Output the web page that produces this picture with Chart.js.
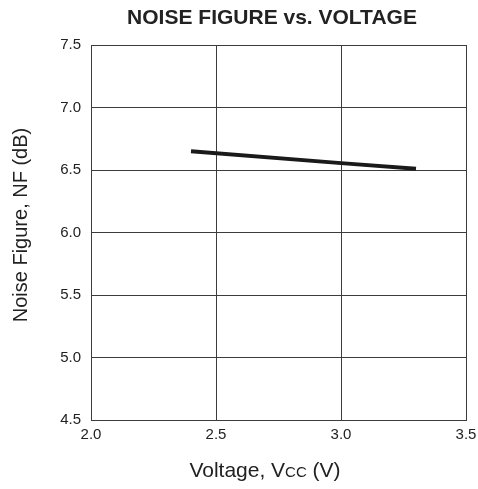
<!DOCTYPE html>
<html>
<head>
<meta charset="utf-8">
<script src="https://cdn.jsdelivr.net/npm/chart.js@4/dist/chart.umd.min.js"></script>
<style>
  html, body { margin: 0; padding: 0; background: #fff; }
  #wrap { width: 478px; height: 489px; }
</style>
</head>
<body>
<div id="wrap"><canvas id="nf-chart" width="478" height="489"></canvas></div>
<script>
const voltage = [2.4, 3.0, 3.3];
const noiseFigure = [6.65, 6.555, 6.51];
const xTicks = [2.0, 2.5, 3.0, 3.5];
const yTicks = [4.5, 5.0, 5.5, 6.0, 6.5, 7.0, 7.5];

const FONT = '"Liberation Sans", Arial, sans-serif';
const INK = '#222';
const GRID = '#3c3c3c';

// titles drawn by hand so "VCC" can use small caps
const titles = {
    id: 'titles',
    afterDraw(chart) {
        const c = chart.ctx;
        c.save();
        c.fillStyle = INK;
        c.textBaseline = 'middle';

        c.font = 'bold 21px ' + FONT;
        c.textAlign = 'center';
        c.fillText('NOISE FIGURE vs. VOLTAGE', 272, 18);

        // x axis title
        const parts = [['Voltage, V', 21], ['CC', 15], [' (V)', 21]];
        let total = 0;
        parts.forEach(p => { c.font = p[1] + 'px ' + FONT; total += c.measureText(p[0]).width });
        let x = 265 - total / 2;
        c.textAlign = 'left';
        c.textBaseline = 'alphabetic';
        parts.forEach(p => {
            c.font = p[1] + 'px ' + FONT;
            c.fillText(p[0], x, 477);
            x += c.measureText(p[0]).width;
        });

        // y axis title
        c.translate(21, 225);
        c.rotate(-Math.PI / 2);
        c.font = '20px ' + FONT;
        c.textAlign = 'center';
        c.textBaseline = 'middle';
        c.fillText('Noise Figure, NF (dB)', 0, 0);
        c.restore();
    }
};

let ctx = document.getElementById('nf-chart').getContext('2d');

let data = {
    datasets: [{
        label: 'NF',
        data: voltage.map((v, i) => ({ x: v, y: noiseFigure[i] })),
        borderColor: '#1a1a1a',
        borderWidth: 4,
        pointRadius: 0,
        showLine: true,
        fill: false,
        tension: 0
    }]
};

let chart = new Chart(ctx, {
    type: 'scatter',
    data: data,
    options: {
        responsive: false,
        animation: false,
        layout: { padding: { top: 45, right: 12, left: 0, bottom: 0 } },
        plugins: {
            legend: { display: false },
            tooltip: { enabled: false },
            title: { display: false }
        },
        scales: {
            x: {
                type: 'linear',
                min: 2.0,
                max: 3.5,
                afterBuildTicks: s => { s.ticks = xTicks.map(v => ({ value: v })) },
                afterFit: s => { s.height = 69; s.paddingLeft = 0; s.paddingRight = 0 },
                grid: { color: GRID, lineWidth: 1, drawTicks: false },
                border: { color: GRID, width: 1 },
                ticks: {
                    color: INK,
                    font: { family: FONT, size: 15 },
                    padding: 6,
                    maxRotation: 0,
                    callback: v => v.toFixed(1)
                }
            },
            y: {
                type: 'linear',
                min: 4.5,
                max: 7.5,
                afterBuildTicks: s => { s.ticks = yTicks.map(v => ({ value: v })) },
                afterFit: s => { s.width = 91; s.paddingTop = 0; s.paddingBottom = 0 },
                grid: { color: GRID, lineWidth: 1, drawTicks: false },
                border: { color: GRID, width: 1 },
                ticks: {
                    color: INK,
                    font: { family: FONT, size: 15 },
                    padding: 10,
                    callback: v => v.toFixed(1)
                }
            }
        }
    },
    plugins: [titles]
});
</script>
</body>
</html>
